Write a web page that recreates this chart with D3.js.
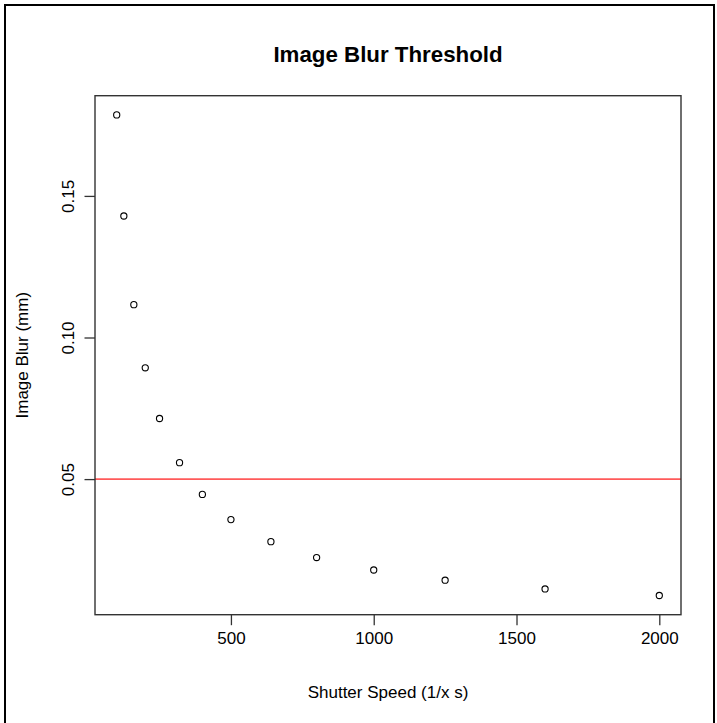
<!DOCTYPE html>
<html>
<head>
<meta charset="utf-8">
<script src="https://cdn.jsdelivr.net/npm/d3@7"></script>
<style>
  body { margin: 0; background: #fff; }
  text { font-family: "Liberation Sans", Arial, sans-serif; fill: #000; }
</style>
</head>
<body>
<div id="chart"></div>
<script>
// shutter speeds (1/x s) and the blur
var shutterSpeed = [100, 125, 160, 200, 250, 320, 400, 500, 640, 800, 1000, 1250, 1600, 2000];
var imageBlur = [0.1786, 0.1429, 0.1116, 0.0893, 0.0714, 0.0558, 0.0446, 0.0357, 0.0279, 0.0223, 0.0179, 0.0143, 0.0112, 0.0089];
var threshold = 0.05;
var xTicks = [500, 1000, 1500, 2000];
var yTicks = [0.05, 0.10, 0.15];

const W = 717, H = 723;
const margin = { top: 95.7, right: 36, bottom: 108.3, left: 95 };
const width = W - margin.left - margin.right,
      height = H - margin.top - margin.bottom;

const svg = d3.select("#chart").append("svg")
  .attr("width", W)
  .attr("height", H);

// outer frame of the screenshot
svg.append("rect")
  .attr("x", 5).attr("y", 5)
  .attr("width", 709).attr("height", 730)
  .attr("fill", "none")
  .attr("stroke", "#000")
  .attr("stroke-width", 2);

const g = svg.append("g")
  .attr("transform", `translate(${margin.left},${margin.top})`);

// R style range: data extent padded by 4% on each side
function padded(vals) {
  const [a, b] = d3.extent(vals);
  const p = (b - a) * 0.04;
  return [a - p, b + p];
}

const x = d3.scaleLinear().domain(padded(shutterSpeed)).range([0, width]);
const y = d3.scaleLinear().domain(padded(imageBlur)).range([height, 0]);

// axes
const xAxis = g.append("g")
  .attr("transform", `translate(0,${height})`)
  .call(d3.axisBottom(x).tickValues(xTicks).tickSize(10.5).tickPadding(8).tickFormat(d3.format("d")));
const yAxis = g.append("g")
  .call(d3.axisLeft(y).tickValues(yTicks).tickSize(10.5).tickFormat(d3.format(".2f")));

[xAxis, yAxis].forEach(a => {
  a.select(".domain").remove();
  a.selectAll("line").attr("stroke", "#333").attr("stroke-width", 1.3);
  a.selectAll("text")
    .style("font-size", "17px")
    .style("font-family", "Liberation Sans, Arial, sans-serif")
    .attr("fill", "#000");
});
xAxis.selectAll("text").attr("dy", "0.71em").attr("y", 17);

// rotated y tick labels like R's las = 0
yAxis.selectAll(".tick text")
  .attr("x", null).attr("dy", null)
  .attr("text-anchor", "middle")
  .attr("transform", "translate(-21,0) rotate(-90)");

// threshold line
g.append("line")
  .attr("x1", 0).attr("x2", width)
  .attr("y1", y(threshold)).attr("y2", y(threshold))
  .attr("stroke", "#ff5a5a")
  .attr("stroke-width", 1.8);

// points
g.selectAll(".pt")
  .data(shutterSpeed.map((s, i) => ({ s: s, b: imageBlur[i] })))
  .enter().append("circle")
  .attr("class", "pt")
  .attr("cx", d => x(d.s))
  .attr("cy", d => y(d.b))
  .attr("r", 3.1)
  .attr("fill", "none")
  .attr("stroke", "#000")
  .attr("stroke-width", 1.1);

// plot box
g.append("rect")
  .attr("width", width).attr("height", height)
  .attr("fill", "none")
  .attr("stroke", "#333")
  .attr("stroke-width", 1.4);

// title and axis labels
svg.append("text")
  .attr("x", margin.left + width / 2)
  .attr("y", 62)
  .attr("text-anchor", "middle")
  .style("font-size", "22.3px")
  .style("font-weight", "bold")
  .text("Image Blur Threshold");

svg.append("text")
  .attr("x", margin.left + width / 2)
  .attr("y", 698)
  .attr("text-anchor", "middle")
  .style("font-size", "17px")
  .text("Shutter Speed (1/x s)");

svg.append("text")
  .attr("transform", `translate(28,${margin.top + height / 2}) rotate(-90)`)
  .attr("text-anchor", "middle")
  .style("font-size", "17px")
  .text("Image Blur (mm)");
</script>
</body>
</html>
